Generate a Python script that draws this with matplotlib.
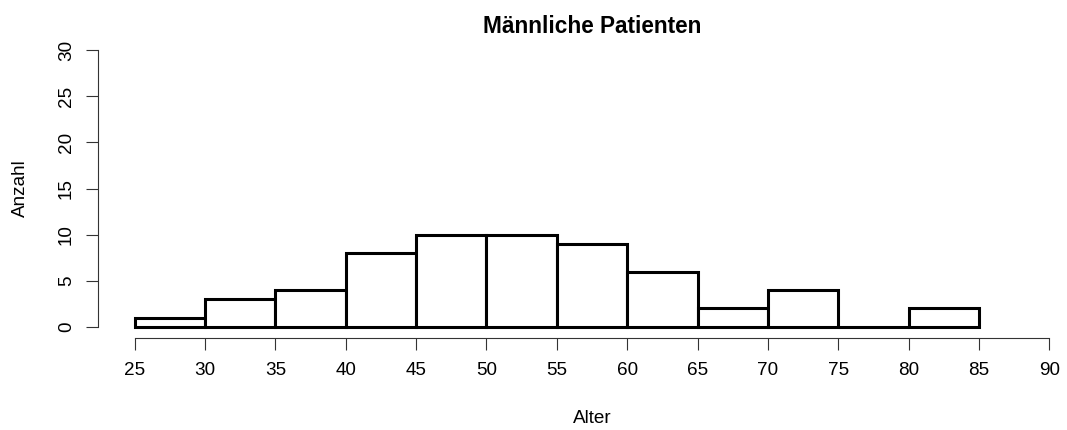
import matplotlib.pyplot as plt

plt.rcParams['font.family'] = ['Liberation Sans', 'DejaVu Sans']

# Altersklassen und Häufigkeiten
breaks = [25, 30, 35, 40, 45, 50, 55, 60, 65, 70, 75, 80, 85]
counts = [1, 3, 4, 8, 10, 10, 9, 6, 2, 4, 0, 2]
xticks = [25, 30, 35, 40, 45, 50, 55, 60, 65, 70, 75, 80, 85, 90]
yticks = [0, 5, 10, 15, 20, 25, 30]

fig = plt.figure(figsize=(10.67, 4.3), dpi=100)
# plot region reaches past the right edge, as in the original R output
ax = fig.add_axes([98 / 1067, 1 - 338 / 430, (1086 - 98) / 1067, (338 - 39) / 430])

lefts = breaks[:-1]
widths = [b - a for a, b in zip(breaks[:-1], breaks[1:])]
ax.bar(lefts, counts, width=widths, align='edge', facecolor='white',
       edgecolor='black', linewidth=2.2)

ax.set_xlim(22.4, 92.6)
ax.set_ylim(-1.2, 31.2)

for s in ['top', 'right']:
    ax.spines[s].set_visible(False)
ax.spines['left'].set_bounds(0, 30)
ax.spines['bottom'].set_bounds(25, 90)
for s in ['left', 'bottom']:
    ax.spines[s].set_linewidth(0.8)
    ax.spines[s].set_color('#333333')

ax.set_xticks(xticks)
ax.set_yticks(yticks)
ax.set_yticklabels([str(v) for v in yticks], rotation=90, va='center')
ax.tick_params(axis='both', direction='out', length=8.6, width=0.8,
               color='#333333', labelsize=13.6)
ax.tick_params(axis='x', pad=9)
ax.tick_params(axis='y', pad=8)

ax.set_title('Männliche Patienten', fontsize=16.3, fontweight='bold', pad=4.5)
ax.set_xlabel('Alter', fontsize=13.6, labelpad=22)
ax.set_ylabel('Anzahl', fontsize=13.6, labelpad=21)

fig.savefig('out.png', dpi=100)
